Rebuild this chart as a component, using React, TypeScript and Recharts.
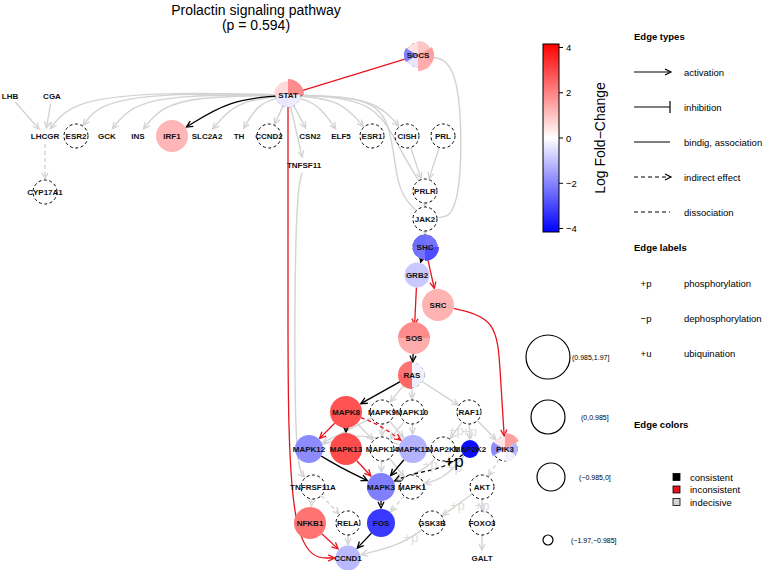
import React from "react";
import { ComposedChart, Line, Scatter, XAxis, YAxis } from "recharts";

const W = 769;
const H = 570;

// measured genes (graph layout coordinates)
const nodeNames = ["SOCS", "STAT", "ESR2", "IRF1", "CCND2", "ESR1", "CISH", "PRL", "CYP17A1", "PRLR", "JAK2", "SHC", "GRB2", "SRC", "SOS", "RAS", "MAPK8", "MAPK9", "MAPK10", "RAF1", "MAPK12", "MAPK13", "MAPK14", "MAPK11", "MAP2K1", "MAP2K2", "PIK3", "TNFRSF11A", "MAPK3", "MAPK1", "AKT", "NFKB1", "RELA", "FOS", "GSK3B", "FOXO3", "CCND1"];
const nodeX = [418, 288, 76, 172, 269, 372, 407, 443, 45, 425, 425, 425, 417, 438, 414, 412, 346, 382, 412, 469, 309, 346, 382, 413, 443, 470, 505, 313, 381, 412, 482, 310, 348, 381, 432, 482, 348];
const nodeY = [55, 95, 136, 136, 136, 136, 136, 136, 192, 191, 219, 247, 275, 305, 338, 375, 412, 412, 412, 412, 449, 449, 449, 449, 449, 449, 449, 487, 487, 487, 487, 523, 523, 523, 523, 523, 558];
const nodeLogFC: (number | null)[] = [null, null, null, 1.15, null, null, null, null, null, null, null, null, -0.85, 1.2, null, null, 2.7, null, null, null, -1.8, 2.8, null, -1.2, null, -3.8, null, null, -2.0, null, null, 2.2, null, -3.1, null, null, -1.1];
const nodeScore: (number | null)[] = [null, null, null, 1.5, null, null, null, null, null, null, null, null, -0.3, 1.4, null, null, 1.6, null, null, null, 0.6, 1.7, null, 0.5, null, -1.5, null, null, 0.7, null, null, 1.5, null, 0.4, null, null, -0.2];

// genes measured by several probes: [logFC, score] per slice, clockwise from 12 o'clock
const pieSlices: Record<string, ([number, number] | null)[]> = {
  SOCS: [[0.9, 0.3], [1.5, 1.2], [1.3, 1.1], [-0.4, -0.2], [-2.0, 0.2], [0.5, -0.2]],
  STAT: [[1.8, 1.2], [-0.3, -0.2], [-0.4, -0.2], [0.6, 0.2]],
  SHC: [[-2.2, -0.2], [-2.8, 0.5], [-2.2, -0.2], [-2.3, -0.2]],
  SOS: [[1.8, 1.5], [1.3, 1.5], [1.3, 1.5], [1.8, 1.5]],
  RAS: [[-0.2, -0.2], [-0.3, -0.2], [2.4, 0.5], [2.2, 0.5]],
  PIK3: [[1.5, 1.2], [-1.2, -0.2], [-0.2, -0.3], null, [-1.8, 0.3], [0.4, -0.3]],
};

// genes without measurement, drawn as plain labels
const labelNames = ["LHB", "CGA", "LHCGR", "GCK", "INS", "SLC2A2", "TH", "CSN2", "ELF5", "TNFSF11", "GALT"];
const labelX = [10, 52, 45, 107, 138, 207, 239, 310, 341, 304, 482];
const labelY = [96, 96, 136, 136, 136, 136, 136, 136, 136, 165, 558];

// edges: from, to, bend points, colour class, type, label
type Edge = { f: string; t: string; via?: number[][]; c: "consistent" | "inconsistent" | "indecisive"; k?: "act" | "inh" | "bind" | "ind"; lab?: string };
const edges: Edge[] = [
  { f: "STAT", t: "LHCGR", via: [[150, 92], [70, 102]], c: "indecisive" },
  { f: "STAT", t: "ESR2", via: [[160, 93], [98, 104]], c: "indecisive" },
  { f: "STAT", t: "GCK", via: [[175, 95], [130, 106]], c: "indecisive" },
  { f: "STAT", t: "INS", via: [[195, 97], [160, 108]], c: "indecisive" },
  { f: "STAT", t: "SLC2A2", via: [[235, 102]], c: "indecisive" },
  { f: "STAT", t: "TH", via: [[258, 104]], c: "indecisive" },
  { f: "STAT", t: "CCND2", c: "indecisive" },
  { f: "STAT", t: "CSN2", c: "indecisive" },
  { f: "STAT", t: "ELF5", via: [[318, 104]], c: "indecisive" },
  { f: "STAT", t: "ESR1", via: [[340, 100]], c: "indecisive" },
  { f: "STAT", t: "CISH", via: [[375, 98]], c: "indecisive" },
  { f: "STAT", t: "TNFSF11", c: "indecisive" },
  { f: "STAT", t: "IRF1", via: [[230, 100]], c: "consistent" },
  { f: "PRLR", t: "STAT", via: [[400, 150], [375, 99]], c: "indecisive", k: "bind" },
  { f: "JAK2", t: "STAT", via: [[395, 190], [392, 110], [350, 96]], c: "indecisive", k: "bind" },
  { f: "LHB", t: "LHCGR", c: "indecisive" },
  { f: "CGA", t: "LHCGR", c: "indecisive" },
  { f: "LHCGR", t: "CYP17A1", c: "indecisive", k: "ind" },
  { f: "SOCS", t: "STAT", c: "inconsistent", k: "inh" },
  { f: "SOCS", t: "JAK2", via: [[462, 62], [462, 215]], c: "indecisive", k: "bind" },
  { f: "CISH", t: "PRLR", c: "indecisive" },
  { f: "PRL", t: "PRLR", c: "indecisive" },
  { f: "PRLR", t: "JAK2", c: "indecisive" },
  { f: "JAK2", t: "SHC", c: "indecisive" },
  { f: "SHC", t: "GRB2", c: "consistent" },
  { f: "SHC", t: "SRC", c: "inconsistent" },
  { f: "GRB2", t: "SOS", c: "inconsistent" },
  { f: "SRC", t: "PIK3", via: [[497, 318], [500, 370]], c: "inconsistent" },
  { f: "SOS", t: "RAS", c: "consistent" },
  { f: "RAS", t: "MAPK9", c: "indecisive" },
  { f: "RAS", t: "MAPK10", c: "indecisive" },
  { f: "RAS", t: "RAF1", c: "indecisive" },
  { f: "RAS", t: "MAPK8", c: "consistent" },
  { f: "RAF1", t: "PIK3", c: "indecisive" },
  { f: "MAPK9", t: "MAPK14", c: "indecisive" },
  { f: "MAPK10", t: "MAPK11", c: "indecisive" },
  { f: "MAPK9", t: "MAPK12", via: [[345, 432]], c: "indecisive" },
  { f: "MAPK10", t: "MAPK14", c: "indecisive" },
  { f: "MAPK8", t: "MAPK14", c: "indecisive" },
  { f: "MAPK9", t: "MAPK11", c: "indecisive" },
  { f: "MAPK12", t: "MAPK11", via: [[360, 432]], c: "indecisive", k: "bind" },
  { f: "MAPK8", t: "MAPK12", c: "inconsistent" },
  { f: "MAPK8", t: "MAPK13", c: "consistent" },
  { f: "MAPK8", t: "MAPK11", via: [[380, 425]], c: "inconsistent", k: "ind" },
  { f: "RAF1", t: "MAP2K1", c: "indecisive", lab: "+p" },
  { f: "RAF1", t: "MAP2K2", c: "indecisive", lab: "+p" },
  { f: "MAPK14", t: "MAPK3", c: "indecisive" },
  { f: "MAPK14", t: "MAPK1", c: "indecisive" },
  { f: "MAP2K1", t: "MAPK3", via: [[425, 470]], c: "indecisive", lab: "+p" },
  { f: "MAP2K2", t: "MAPK1", via: [[445, 478]], c: "indecisive", lab: "+p" },
  { f: "MAPK12", t: "MAPK3", via: [[345, 470]], c: "consistent" },
  { f: "MAPK13", t: "MAPK3", c: "inconsistent" },
  { f: "MAPK11", t: "MAPK3", c: "consistent" },
  { f: "MAP2K2", t: "MAPK3", via: [[445, 468], [410, 474]], c: "consistent", k: "ind", lab: "+p" },
  { f: "PIK3", t: "AKT", c: "indecisive", k: "ind" },
  { f: "AKT", t: "GSK3B", c: "indecisive", lab: "+p" },
  { f: "AKT", t: "FOXO3", c: "indecisive", lab: "+p" },
  { f: "FOXO3", t: "GALT", c: "indecisive" },
  { f: "MAPK1", t: "FOS", c: "indecisive", k: "ind" },
  { f: "MAPK3", t: "FOS", c: "consistent", k: "ind" },
  { f: "TNFSF11", t: "TNFRSF11A", via: [[295, 200], [294, 465]], c: "indecisive" },
  { f: "TNFRSF11A", t: "NFKB1", c: "indecisive", k: "ind" },
  { f: "TNFRSF11A", t: "RELA", c: "indecisive", k: "ind" },
  { f: "RELA", t: "CCND1", c: "indecisive" },
  { f: "GSK3B", t: "CCND1", via: [[400, 545]], c: "indecisive", lab: "+p" },
  { f: "FOS", t: "CCND1", c: "consistent" },
  { f: "NFKB1", t: "CCND1", c: "inconsistent" },
  { f: "STAT", t: "CCND1", via: [[288, 300], [288, 558]], c: "inconsistent" },
];

// legend values
const lfcTicks = [4, 2, 0, -2, -4];
const sizeBins = ["(0.985,1.97]", "(0,0.985]", "(\u22120.985,0]", "(\u22121.97,\u22120.985]"];
const edgeTypeNames = ["activation", "inhibition", "bindig, association", "indirect effect", "dissociation"];
const edgeLabelSym = ["+p", "\u2212p", "+u"];
const edgeLabelNames = ["phosphorylation", "dephosphorylation", "ubiquination"];
const edgeColorNames = ["consistent", "inconsistent", "indecisive"];

const FONT = "'Liberation Sans', Arial, Helvetica, sans-serif";
const edgeColor = { consistent: "#000000", inconsistent: "#e8141b", indecisive: "#d3d3d3" };

const lfcColor = (v: number) => {
  const t = Math.max(-1, Math.min(1, v / 4));
  if (t >= 0) {
    const g = Math.round(255 * (1 - t));
    return `rgb(255,${g},${g})`;
  }
  const g = Math.round(255 * (1 + t));
  return `rgb(${g},${g},255)`;
};

const scoreRadius = (s: number) => (s > 0.985 ? 16 : s > 0 ? 14 : s > -0.985 ? 12.5 : 9);

const pos: Record<string, { x: number; y: number; r: number; label?: boolean }> = {};
nodeNames.forEach((n, i) => {
  const s = nodeScore[i];
  pos[n] = { x: nodeX[i], y: nodeY[i], r: s == null ? 12 : scoreRadius(s) };
});
labelNames.forEach((n, i) => {
  pos[n] = { x: labelX[i], y: labelY[i], r: 8, label: true };
});

function trimPoint(n: string, toward: number[], pad: number) {
  const p = pos[n];
  const dx = toward[0] - p.x;
  const dy = toward[1] - p.y;
  const d = Math.hypot(dx, dy) || 1;
  let r = p.r + pad;
  if (p.label) r = Math.min(r, Math.abs(dy) > 1 ? Math.abs((d * 8) / dy) : 14);
  return { x: p.x + (dx / d) * r, y: p.y + (dy / d) * r };
}

function edgePoints(e: Edge) {
  const via = e.via || [];
  const first = via.length ? via[0] : [pos[e.t].x, pos[e.t].y];
  const last = via.length ? via[via.length - 1] : [pos[e.f].x, pos[e.f].y];
  const a = trimPoint(e.f, first, 0);
  const b = trimPoint(e.t, last, 1);
  return [a, ...via.map((v) => ({ x: v[0], y: v[1] })), b];
}

const nodeData = nodeNames.map((n, i) => ({ name: n, x: nodeX[i], y: nodeY[i], lfc: nodeLogFC[i], score: nodeScore[i] }));
const labelData = labelNames.map((n, i) => ({ name: n, x: labelX[i], y: labelY[i] }));
// edge labels sit half-way along the first segment of their edge
const edgeLabelData = edges
  .filter((e) => e.lab)
  .map((e) => {
    const p = edgePoints(e);
    return { x: (p[0].x + p[1].x) / 2, y: (p[0].y + p[1].y) / 2, text: e.lab, c: e.c };
  });

function arrowHead(x: number, y: number, ang: number, color: string, kind: string) {
  if (kind === "bind") return <g />;
  if (kind === "inh") {
    const px = Math.cos(ang + Math.PI / 2) * 5;
    const py = Math.sin(ang + Math.PI / 2) * 5;
    return <line x1={x - px} y1={y - py} x2={x + px} y2={y + py} stroke={color} strokeWidth={1.3} />;
  }
  const L = 7;
  const a1 = ang + Math.PI - 0.45;
  const a2 = ang + Math.PI + 0.45;
  return (
    <path
      d={`M${x + Math.cos(a1) * L},${y + Math.sin(a1) * L}L${x},${y}L${x + Math.cos(a2) * L},${y + Math.sin(a2) * L}`}
      fill="none"
      stroke={color}
      strokeWidth={1.3}
      strokeDasharray="none"
    />
  );
}

function NodeShape(props: any) {
  const { cx, cy } = props;
  const d = props.payload || props;
  const slices = pieSlices[d.name];
  const text = (
    <text x={cx} y={cy + 3} textAnchor="middle" fontSize={8} fontWeight="bold" fontFamily={FONT} fill="#111">
      {d.name}
    </text>
  );
  if (slices) {
    const n = slices.length;
    const paths = slices.map((s, i) => {
      if (!s) return null;
      const r = scoreRadius(s[1]);
      const a0 = -Math.PI / 2 + (i * 2 * Math.PI) / n;
      const a1 = -Math.PI / 2 + ((i + 1) * 2 * Math.PI) / n;
      return (
        <path
          key={i}
          d={`M${cx},${cy}L${cx + r * Math.cos(a0)},${cy + r * Math.sin(a0)}A${r},${r} 0 0 1 ${cx + r * Math.cos(a1)},${cy + r * Math.sin(a1)}Z`}
          fill={lfcColor(s[0])}
        />
      );
    });
    return (
      <g>
        <circle cx={cx} cy={cy} r={12} fill="none" stroke="#000" strokeDasharray="3 2.5" strokeWidth={1} />
        {paths}
        {text}
      </g>
    );
  }
  if (d.lfc == null) {
    return (
      <g>
        <circle cx={cx} cy={cy} r={12} fill="#fff" stroke="#000" strokeDasharray="3 2.5" strokeWidth={1} />
        {text}
      </g>
    );
  }
  return (
    <g>
      <circle cx={cx} cy={cy} r={scoreRadius(d.score)} fill={lfcColor(d.lfc)} />
      {text}
    </g>
  );
}

function LabelShape(props: any) {
  const d = props.payload || props;
  return (
    <text x={props.cx} y={props.cy + 3} textAnchor="middle" fontSize={8} fontWeight="bold" fontFamily={FONT} fill="#111">
      {d.name}
    </text>
  );
}

function EdgeLabelShape(props: any) {
  const d = props.payload || props;
  const big = d.c === "consistent";
  return (
    <text x={props.cx} y={props.cy + (big ? 6 : 5)} textAnchor="middle" fontSize={big ? 17 : 13} fontFamily={FONT} fill={big ? "#000" : "#dcdcdc"}>
      {d.text}
    </text>
  );
}

function Legend() {
  const tickY = (v: number) => 138 - (v / 4) * 90.5;
  return (
    <svg width={W} height={H} style={{ position: "absolute", left: 0, top: 0, pointerEvents: "none" }} fontFamily={FONT}>
      <defs>
        <linearGradient id="lfcBar" x1="0" y1="0" x2="0" y2="1">
          <stop offset="0%" stopColor="#ff0000" />
          <stop offset="50%" stopColor="#ffffff" />
          <stop offset="100%" stopColor="#0000ff" />
        </linearGradient>
      </defs>
      <text x={256} y={15} textAnchor="middle" fontSize={14}>Prolactin signaling pathway</text>
      <text x={256} y={30} textAnchor="middle" fontSize={14}>(p = 0.594)</text>

      <rect x={543} y={44} width={16} height={188} fill="url(#lfcBar)" stroke="#000" strokeWidth={1} />
      {lfcTicks.map((v) => (
        <g key={v}>
          <line x1={559} x2={563} y1={tickY(v)} y2={tickY(v)} stroke="#000" />
          <text x={566} y={tickY(v) + 3.5} fontSize={9.5}>{v < 0 ? "\u2212" + Math.abs(v) : v}</text>
        </g>
      ))}
      <text transform="translate(605,138) rotate(-90)" textAnchor="middle" fontSize={14}>{"Log Fold\u2212Change"}</text>

      <text x={634} y={40} fontSize={9.5} fontWeight="bold">Edge types</text>
      {edgeTypeNames.map((n, i) => {
        const y = 72 + i * 35;
        const dashed = i >= 3;
        return (
          <g key={n}>
            <line x1={634} x2={670} y1={y} y2={y} stroke="#000" strokeWidth={1.2} strokeDasharray={dashed ? "4 3" : undefined} />
            {(i === 0 || i === 3) && <path d={`M665,${y - 3}L671,${y}L665,${y + 3}`} fill="none" stroke="#000" strokeWidth={1.2} />}
            {i === 1 && <line x1={670} x2={670} y1={y - 6} y2={y + 6} stroke="#000" strokeWidth={1.2} />}
            <text x={684} y={y + 3.5} fontSize={9.5}>{n}</text>
          </g>
        );
      })}

      <text x={634} y={251} fontSize={9.5} fontWeight="bold">Edge labels</text>
      {edgeLabelNames.map((n, i) => {
        const y = 283 + i * 35;
        return (
          <g key={n}>
            <text x={646} y={y + 3.5} fontSize={9.5} textAnchor="middle">{edgeLabelSym[i]}</text>
            <text x={684} y={y + 3.5} fontSize={9.5}>{n}</text>
          </g>
        );
      })}

      <text x={634} y={428} fontSize={9.5} fontWeight="bold">Edge colors</text>
      {edgeColorNames.map((n, i) => {
        const y = 477 + i * 12.5;
        const fill = [edgeColor.consistent, "#e8141b", "#d3d3d3"][i];
        return (
          <g key={n}>
            <rect x={673} y={y - 3.5} width={7} height={7} fill={fill} stroke="#000" strokeWidth={0.8} />
            <text x={690} y={y + 3.5} fontSize={9.5}>{n}</text>
          </g>
        );
      })}

      {sizeBins.map((b, i) => {
        const r = [22, 17, 14, 5][i];
        const cy = [357, 417, 477, 540][i];
        const cx = [548, 548, 551, 548][i];
        const tx = [572, 581, 579, 571][i];
        return (
          <g key={b}>
            <circle cx={cx} cy={cy} r={r} fill="none" stroke="#000" strokeWidth={1.2} />
            <text x={tx} y={cy + 2.5} fontSize={7} fill="#000">{b}</text>
          </g>
        );
      })}
    </svg>
  );
}

export default function App() {
  return (
    <div style={{ position: "absolute", left: 0, top: 0, width: W, height: H, background: "#fff" }}>
      <ComposedChart width={W} height={H} margin={{ top: 0, right: 0, bottom: 0, left: 0 }}>
        <XAxis type="number" dataKey="x" domain={[0, W]} hide allowDataOverflow />
        <YAxis type="number" dataKey="y" domain={[0, H]} reversed hide allowDataOverflow />
        {edges.map((e, i) => {
          const pts = edgePoints(e);
          const color = edgeColor[e.c];
          const kind = e.k || "act";
          const n = pts.length;
          const ang = Math.atan2(pts[n - 1].y - pts[n - 2].y, pts[n - 1].x - pts[n - 2].x);
          return (
            <Line
              key={i}
              data={pts}
              dataKey="y"
              type="basis"
              stroke={color}
              strokeWidth={e.c === "indecisive" ? 1.4 : 1.3}
              strokeDasharray={kind === "ind" ? "4 3" : undefined}
              dot={(p: any) =>
                p.index === n - 1 ? <g key={`a${i}`}>{arrowHead(p.cx, p.cy, ang, color, kind)}</g> : <g key={`d${i}-${p.index}`} />
              }
              activeDot={false}
              isAnimationActive={false}
            />
          );
        })}
        <Scatter data={labelData} shape={LabelShape} isAnimationActive={false} />
        <Scatter data={nodeData} shape={NodeShape} isAnimationActive={false} />
        <Scatter data={edgeLabelData} shape={EdgeLabelShape} isAnimationActive={false} />
      </ComposedChart>
      <Legend />
    </div>
  );
}
